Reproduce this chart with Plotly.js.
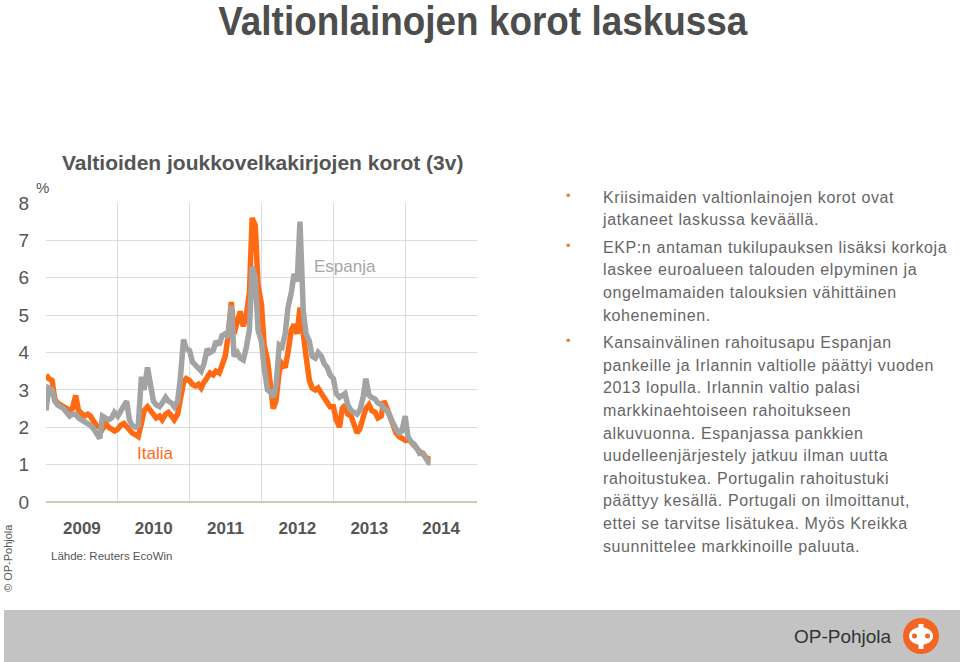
<!DOCTYPE html>
<html>
<head>
<meta charset="utf-8">
<script src="https://cdn.plot.ly/plotly-3.0.1.min.js"></script>
<style>
  html, body { margin: 0; padding: 0; background: #ffffff; }
  #chart { width: 960px; height: 662px; }
</style>
</head>
<body>
<div id="chart"></div>
<script>
// ---- Data (half-monthly samples) ----
const italia = [
  // 2009
  3.4,3.3, 3.25,2.75, 2.65,2.6, 2.55,2.5, 2.45,2.5, 2.85,2.45, 2.35,2.3, 2.35,2.3, 2.15,2.05, 2.0,1.95, 2.1,2.0, 1.95,1.9,
  // 2010
  1.95,2.05, 2.1,2.0, 1.9,1.85, 1.8,1.75, 2.1,2.45, 2.55,2.45, 2.35,2.25, 2.3,2.2, 2.35,2.4, 2.3,2.2, 2.35,2.8, 3.2,3.3,
  // 2011
  3.25,3.15, 3.1,3.15, 3.05,3.2, 3.35,3.45, 3.4,3.5, 3.45,3.7, 3.9,4.4, 5.35,4.5, 4.8,5.1, 4.7,4.95, 5.6,7.6, 7.4,5.8,
  // 2012
  5.3,4.2, 3.8,3.0, 2.5,2.7, 3.5,3.7, 3.6,4.0, 4.6,4.75, 4.5,5.2, 4.3,3.9, 3.25,3.05, 3.0,3.05, 2.9,2.8, 2.7,2.55,
  // 2013
  2.55,2.2, 2.0,2.5, 2.6,2.35, 2.3,2.1, 1.85,1.95, 2.3,2.5, 2.6,2.45, 2.4,2.25, 2.3,2.7, 2.5,2.3, 2.0,1.85, 1.75,1.7,
  // 2014
  1.65,1.7, 1.6,1.5, 1.4,1.35, 1.3,1.2, 1.15,1.15
];
const espanja = [
  // 2009
  2.45,3.05, 3.0,2.7, 2.6,2.55, 2.5,2.4, 2.3,2.35, 2.35,2.25, 2.2,2.15, 2.1,2.05, 1.95,1.85, 1.7,2.3, 2.25,2.2, 2.25,2.4,
  // 2010
  2.3,2.45, 2.6,2.7, 2.2,2.05, 2.0,2.05, 3.35,3.0, 3.6,3.2, 2.7,2.6, 2.55,2.65, 2.8,2.7, 2.65,2.55, 2.7,3.3, 4.35,4.1,
  // 2011
  4.05,3.75, 3.65,3.55, 3.5,3.7, 4.1,4.0, 4.05,4.3, 4.2,4.45, 4.5,4.4, 5.25,3.9, 4.0,3.85, 3.8,4.1, 4.6,6.3, 6.0,4.6,
  // 2012
  4.3,3.6, 3.0,2.95, 2.8,3.1, 4.2,4.15, 4.5,5.2, 5.6,6.1, 5.9,7.5, 5.1,4.5, 4.3,3.9, 3.85,4.0, 3.9,3.7, 3.6,3.4,
  // 2013
  3.3,2.9, 2.8,2.85, 2.9,2.6, 2.45,2.4, 2.35,2.45, 2.8,3.3, 2.85,2.8, 2.75,2.65, 2.6,2.5, 2.45,2.3, 2.1,1.95, 1.85,1.9,
  // 2014
  2.3,1.75, 1.6,1.55, 1.45,1.3, 1.3,1.15, 1.05,1.05
];
const years = [2009, 2010, 2011, 2012, 2013, 2014];
const lastDate = "2014-05-10";

// dates: 1st and 15th of each month, Jan 2009 .. May 2014, then last observation
const dates = [];
for (const y of years) {
  for (let m = 1; m <= 12; m++) {
    if (y === 2014 && m > 5) break;
    const mm = String(m).padStart(2, "0");
    dates.push(`${y}-${mm}-01`);
    if (!(y === 2014 && m === 5)) dates.push(`${y}-${mm}-15`);
  }
}
dates.push(lastDate);

const mainTitle = "Valtionlainojen korot laskussa";
const chartTitle = "Valtioiden joukkovelkakirjojen korot (3v)";
const sourceText = "Lähde: Reuters EcoWin";
const copyText = "© OP-Pohjola";
const brandText = "OP-Pohjola";
const bulletLines = [
  "Kriisimaiden valtionlainojen korot ovat",
  "jatkaneet laskussa keväällä.",
  "EKP:n antaman tukilupauksen lisäksi korkoja",
  "laskee euroalueen talouden elpyminen ja",
  "ongelmamaiden talouksien vähittäinen",
  "koheneminen.",
  "Kansainvälinen rahoitusapu Espanjan",
  "pankeille ja Irlannin valtiolle päättyi vuoden",
  "2013 lopulla. Irlannin valtio palasi",
  "markkinaehtoiseen rahoitukseen",
  "alkuvuonna. Espanjassa pankkien",
  "uudelleenjärjestely jatkuu ilman uutta",
  "rahoitustukea. Portugalin rahoitustuki",
  "päättyy kesällä. Portugali on ilmoittanut,",
  "ettei se tarvitse lisätukea. Myös Kreikka",
  "suunnittelee markkinoille paluuta."
];
const bulletStarts = [0, 2, 6];

// ---- Layout helpers (pixel -> paper) ----
const L = 46, R = 477, T = 203, B = 502;
const px = x => (x - L) / (R - L);
const py = y => (B - y) / (B - T);

const ORANGE = "#ff6a13";
const GRAY = "#a3a3a3";
const TXT = "#555555";

const traces = [
  { x: dates, y: italia, type: "scatter", mode: "lines", name: "Italia",
    line: { color: ORANGE, width: 5.5 }, hoverinfo: "skip" },
  { x: dates, y: espanja, type: "scatter", mode: "lines", name: "Espanja",
    line: { color: GRAY, width: 5.5 }, hoverinfo: "skip" }
];

const annotations = [];
const bulletIdx = [];
function addText(text, x, y, size, color, opts = {}) {
  annotations.push(Object.assign({
    text, xref: "paper", yref: "paper", x: px(x), y: py(y),
    xanchor: "left", yanchor: "middle", showarrow: false,
    font: { family: "Liberation Sans, Arial, sans-serif", size, color }
  }, opts));
  return annotations.length - 1;
}

const titleIdx = addText("<b>" + mainTitle + "</b>", 483, 21, 40, "#4d4d4d",
  { xanchor: "center", font: { family: "Liberation Sans Narrow, Liberation Sans, sans-serif", size: 40, color: "#4d4d4d" } });
addText("<b>" + chartTitle + "</b>", 262, 162, 21, TXT, { xanchor: "center" });
addText("%", 34, 187, 15, TXT);
addText(sourceText, 49, 556, 11.5, TXT);
addText(copyText, 8, 558, 11, TXT, { xanchor: "center", textangle: -90 });
addText(brandText, 843, 636, 19, "#333333", { xanchor: "center" });

// series labels in data coordinates
annotations.push({ text: "Espanja", x: "2013-03-01", y: 6.3, xref: "x", yref: "y",
  showarrow: false, xanchor: "center", yanchor: "middle",
  font: { family: "Liberation Sans, Arial, sans-serif", size: 17, color: "#a6a6a6" } });
annotations.push({ text: "Italia", x: "2010-07-10", y: 1.3, xref: "x", yref: "y",
  showarrow: false, xanchor: "center", yanchor: "middle",
  font: { family: "Liberation Sans, Arial, sans-serif", size: 17, color: ORANGE } });

// bullet text
const firstY = 197;
let yy = firstY;
bulletLines.forEach((line, i) => {
  if (i > 0 && bulletStarts.includes(i)) yy += 5;
  if (i > 0) yy += 22.6;
  if (bulletStarts.includes(i)) {
    addText("•", 564, yy - 2, 13, "#ef7d22");
  }
  bulletIdx.push(addText(line, 601, yy, 16, "#666666"));
});

const shapes = [
  // bottom brand bar
  { type: "rect", xref: "paper", yref: "paper", x0: px(4), x1: px(962), y0: py(610), y1: py(664),
    fillcolor: "#c3c3c3", line: { width: 0 }, layer: "below" },
  // logo
  { type: "circle", xref: "paper", yref: "paper", x0: px(903), x1: px(939), y0: py(618), y1: py(654),
    fillcolor: "#f26522", line: { width: 0 } },
  { type: "circle", xref: "paper", yref: "paper", x0: px(909), x1: px(933), y0: py(627), y1: py(645),
    fillcolor: "#ffffff", line: { width: 0 } },
  { type: "rect", xref: "paper", yref: "paper", x0: px(918.5), x1: px(923.5), y0: py(624), y1: py(649),
    fillcolor: "#ffffff", line: { width: 0 } },
  { type: "circle", xref: "paper", yref: "paper", x0: px(912), x1: px(917), y0: py(633.5), y1: py(638.5),
    fillcolor: "#f26522", line: { width: 0 } },
  { type: "circle", xref: "paper", yref: "paper", x0: px(925), x1: px(930), y0: py(633.5), y1: py(638.5),
    fillcolor: "#f26522", line: { width: 0 } }
];

const layout = {
  width: 960, height: 662,
  margin: { l: L, r: 960 - R, t: T, b: 662 - B, pad: 0 },
  paper_bgcolor: "#ffffff", plot_bgcolor: "#ffffff",
  showlegend: false,
  font: { family: "Liberation Sans, Arial, sans-serif", color: TXT },
  xaxis: {
    type: "date", range: ["2009-01-01", "2015-01-01"],
    tick0: "2009-01-01", dtick: "M12", tickformat: "%Y", ticklabelmode: "period",
    showgrid: true, gridcolor: "#dcdcdc", gridwidth: 1,
    ticks: "", showline: false, zeroline: false,
    tickfont: { family: "Liberation Sans, Arial, sans-serif", size: 17, color: TXT, weight: "bold" },
    ticklabelstandoff: 14, fixedrange: true
  },
  yaxis: {
    range: [0, 8], dtick: 1, tick0: 0,
    showgrid: true, gridcolor: "#dcdcdc", gridwidth: 1,
    zeroline: true, zerolinecolor: "#c5d1b2", zerolinewidth: 2,
    ticks: "", showline: false,
    tickfont: { family: "Liberation Sans, Arial, sans-serif", size: 19, color: TXT },
    ticklabelstandoff: 16, fixedrange: true
  },
  annotations, shapes
};

Plotly.newPlot("chart", traces, layout, { staticPlot: true, displayModeBar: false }).then(() => {
  document.querySelectorAll("g.annotation").forEach(g => {
    const idx = Number(g.getAttribute("data-index"));
    if (bulletIdx.includes(idx)) {
      // slightly wider letter spacing for the bullet text, keeping the left edge fixed
      g.querySelectorAll("text.annotation-text").forEach(t => {
        const bb = t.getBBox();
        const left = bb.x;
        t.style.letterSpacing = "0.6px";
        t.setAttribute("text-anchor", "start");
        t.setAttribute("x", left);
        t.querySelectorAll("tspan[x]").forEach(s => s.setAttribute("x", left));
      });
    } else if (idx === titleIdx) {
      // condensed look for the slide title: squeeze horizontally to the reference width
      g.querySelectorAll("text.annotation-text").forEach(t => {
        const bb = t.getBBox();
        const cx = bb.x + bb.width / 2;
        const s = 530 / bb.width;
        t.setAttribute("transform", `translate(${cx},0) scale(${s},1) translate(${-cx},0)`);
      });
    }
  });
});
</script>
</body>
</html>
